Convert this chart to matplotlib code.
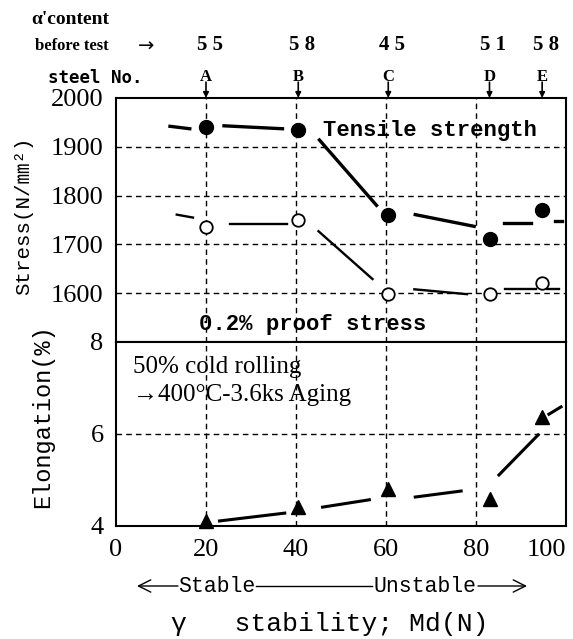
import matplotlib.pyplot as plt
from matplotlib.transforms import blended_transform_factory

# steel data
steel = ['A', 'B', 'C', 'D', 'E']
md = [20, 40.5, 60.5, 83, 94.7]
alpha_content = [55, 58, 45, 51, 58]
tensile = [1941, 1935, 1761, 1712, 1771]
proof = [1735, 1751, 1598, 1598, 1620]
elong = [4.1, 4.41, 4.8, 4.59, 6.37]

# trend line pieces (broken at markers)
ts_x0 = [12.0, 24.0, 45.2, 66.5, 86.3, 97.6]
ts_y0 = [1942, 1943, 1914, 1761, 1743, 1747]
ts_x1 = [16.4, 37.0, 57.9, 79.6, 92.2, 99.1]
ts_y1 = [1937, 1937, 1780, 1737, 1743, 1747]

ps_x0 = [13.5, 25.3, 45.0, 66.3, 86.5, 95.8]
ps_y0 = [1761, 1741, 1727, 1608, 1608, 1608]
ps_x1 = [17.1, 37.9, 57.0, 78.0, 93.3, 98.4]
ps_y1 = [1755, 1741, 1629, 1598, 1608, 1608]

el_x0 = [23.0, 45.9, 66.5, 85.1, 96.2]
el_y0 = [4.11, 4.41, 4.63, 5.11, 6.43]
el_x1 = [37.5, 56.3, 76.7, 93.8, 98.9]
el_y1 = [4.28, 4.57, 4.76, 5.98, 6.59]

xticks = [0, 20, 40, 60, 80, 100]
stress_ticks = [1600, 1700, 1800, 1900, 2000]
elong_ticks = [4, 6, 8]

W, H = 573, 639
fig = plt.figure(figsize=(W / 100, H / 100), dpi=100)

serif = 'Liberation Serif'
mono = ['Liberation Mono', 'Noto Sans CJK JP', 'DejaVu Sans']

def px_axes(l, t, r, b):
    return fig.add_axes([l / W, 1 - b / H, (r - l) / W, (b - t) / H])

ax1 = px_axes(116, 98, 566, 342)
ax2 = px_axes(116, 342, 566, 526)

grid_kw = dict(color='black', lw=1.0, ls=(0, (4, 3)), zorder=1)

for ax in (ax1, ax2):
    ax.set_xlim(0, 100)
    for x in xticks[1:-1]:
        ax.axvline(x, **grid_kw)
    for s in ax.spines.values():
        s.set_linewidth(1.5)
    ax.tick_params(length=0, labelsize=19, pad=9)

# --- stress panel
ax1.set_ylim(1500, 2000)
for y in stress_ticks[:-1]:
    ax1.axhline(y, **grid_kw)
ax1.set_xticks([])
ax1.set_yticks(stress_ticks)
ax1.set_yticklabels([str(v) for v in stress_ticks], family=serif, fontsize=19)

for i in range(len(ts_x0)):
    ax1.plot([ts_x0[i], ts_x1[i]], [ts_y0[i], ts_y1[i]], color='black', lw=2.4, zorder=2)
for i in range(len(ps_x0)):
    ax1.plot([ps_x0[i], ps_x1[i]], [ps_y0[i], ps_y1[i]], color='black', lw=1.7, zorder=2)
ax1.plot(md, tensile, 'o', color='black', ms=10, zorder=3)
ax1.plot(md, proof, 'o', mfc='white', mec='black', mew=1.3, ms=9, zorder=3)

ax1.text(46, 1934, 'Tensile strength', family=mono, fontweight='bold',
         fontsize=16, va='center')
ax1.text(18.5, 1536, '0.2% proof stress', family=mono, fontweight='bold',
         fontsize=16, va='center')

# steel letters, arrows and alpha' content above the panel
tr = blended_transform_factory(ax1.transData, ax1.transAxes)
for x, s, a in zip(md, steel, alpha_content):
    ax1.annotate('', xy=(x, 1.0), xycoords=tr, xytext=(x, 1.065), textcoords=tr,
                 arrowprops=dict(arrowstyle='-|>', color='black', lw=1.2,
                                 mutation_scale=8, shrinkA=0, shrinkB=0))
    ax1.text(x, 1.088, s, transform=tr, ha='center', va='center',
             family=serif, fontweight='bold', fontsize=12)
    ax1.text(x + 0.8, 1.218, ' '.join(str(a)), transform=tr, ha='center', va='center',
             family=serif, fontweight='bold', fontsize=15)

fig.text(31 / W, 1 - 20 / H, "α'content", family=serif, fontweight='bold',
         fontsize=14, ha='left', va='center')
fig.text(35 / W, 1 - 46 / H, 'before test', family=serif, fontweight='bold',
         fontsize=12, ha='left', va='center')
fig.text(138 / W, 1 - 46 / H, '→', family='DejaVu Sans', fontsize=14,
         ha='left', va='center')
fig.text(48 / W, 1 - 78 / H, 'steel No.', family='DejaVu Sans Mono', fontweight='bold',
         fontsize=12.5, ha='left', va='center')

# --- elongation panel
ax2.set_ylim(4, 8)
ax2.axhline(6, **grid_kw)
ax2.set_yticks(elong_ticks)
ax2.set_yticklabels([str(v) for v in elong_ticks], family=serif, fontsize=19)
ax2.set_xticks(xticks)
ax2.set_xticklabels([str(v) for v in xticks], family=serif, fontsize=19)
ax2.get_xticklabels()[-1].set_horizontalalignment('right')

for i in range(len(el_x0)):
    ax2.plot([el_x0[i], el_x1[i]], [el_y0[i], el_y1[i]], color='black', lw=2.2, zorder=2)
ax2.plot(md, elong, '^', color='black', ms=10, zorder=3, clip_on=False)

ax2.text(3.8, 7.45, '50% cold rolling', family=serif, fontsize=18, va='center')
ax2.text(3.8, 6.85, '→400°C-3.6ks Aging', family=[serif, 'DejaVu Sans'],
         fontsize=18, va='center')

# axis titles
fig.text(24 / W, 1 - 216 / H, 'Stress(N/㎜²)', family=mono, fontsize=15,
         rotation=90, ha='center', va='center')
fig.text(43 / W, 1 - 416 / H, 'Elongation(%)', family=mono, fontsize=17,
         rotation=90, ha='center', va='center')

# stable / unstable arrow row
yrow = H - 586
fig.text(217 / W, yrow / H, 'Stable', family=mono, fontsize=15.5, ha='center', va='center')
fig.text(425 / W, yrow / H, 'Unstable', family=mono, fontsize=15.5, ha='center', va='center')
arr = dict(arrowstyle='->', color='black', lw=1.0, mutation_scale=22, shrinkA=0, shrinkB=0)
fig.add_artist(plt.Line2D([256 / W, 372 / W], [yrow / H, yrow / H], color='black', lw=1.0))
plt.annotate('', xy=(137, yrow), xycoords='figure pixels', xytext=(178, yrow),
             textcoords='figure pixels', arrowprops=arr)
plt.annotate('', xy=(527, yrow), xycoords='figure pixels', xytext=(478, yrow),
             textcoords='figure pixels', arrowprops=arr)

fig.text(330 / W, 1 - 624 / H, 'γ   stability; Md(N)', family=mono, fontsize=19,
         ha='center', va='center')

fig.savefig('out.png', dpi=100)
